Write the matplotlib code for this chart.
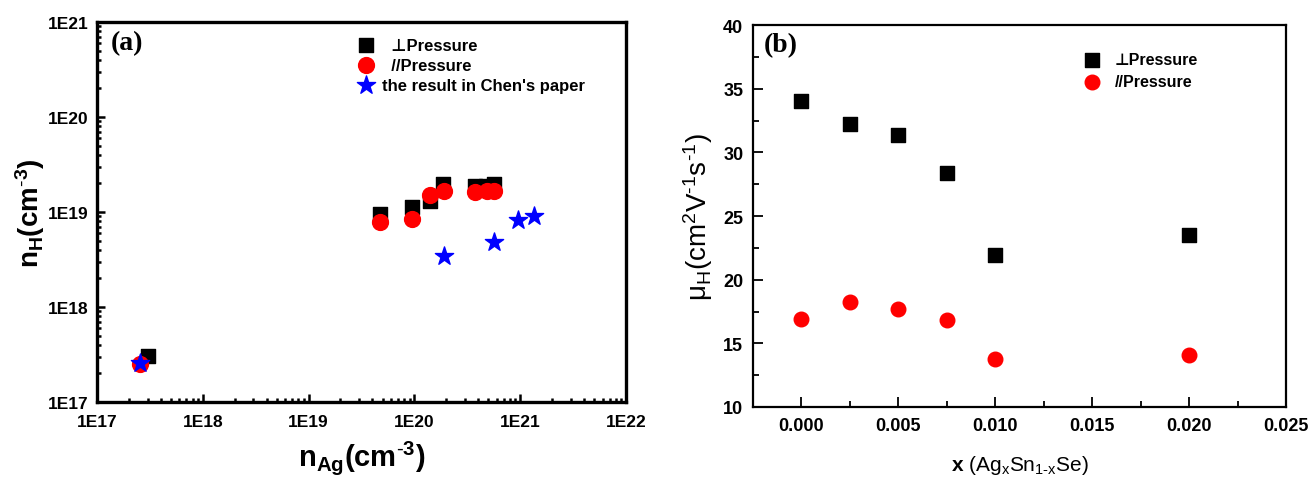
import numpy as np
import matplotlib
matplotlib.use("Agg")
import matplotlib.pyplot as plt
from matplotlib.ticker import LogLocator, FuncFormatter, MultipleLocator, NullFormatter

plt.rcParams['font.family'] = ['Liberation Sans', 'DejaVu Sans']
plt.rcParams['mathtext.fontset'] = 'custom'
plt.rcParams['mathtext.rm'] = 'Liberation Sans'
plt.rcParams['mathtext.bf'] = 'Liberation Sans:bold'

# (a) carrier concentration vs Ag concentration
nag_perp = [3.05e17, 4.7e19, 9.5e19, 1.4e20, 1.86e20, 3.7e20, 4.7e20, 5.7e20]
nh_perp = [3.05e17, 9.5e18, 1.12e19, 1.29e19, 1.98e19, 1.9e19, 1.9e19, 1.95e19]
nag_par = [2.54e17, 4.75e19, 9.5e19, 1.41e20, 1.9e20, 3.7e20, 4.8e20, 5.6e20]
nh_par = [2.49e17, 7.9e18, 8.4e18, 1.51e19, 1.66e19, 1.62e19, 1.65e19, 1.66e19]
nag_chen = [2.54e17, 1.9e20, 5.6e20, 9.5e20, 1.34e21]
nh_chen = [2.55e17, 3.4e18, 4.85e18, 8.3e18, 9.0e18]

# (b) Hall mobility vs x
x_vals = [0.0, 0.0025, 0.005, 0.0075, 0.010, 0.020]
mu_perp = [34.06, 32.25, 31.38, 28.4, 21.93, 23.5]
mu_par = [16.9, 18.25, 17.73, 16.83, 13.73, 14.07]

fig = plt.figure(figsize=(13.13, 4.81), dpi=100)
ax1 = fig.add_axes([0.0739, 0.1622, 0.4029, 0.79])
ax2 = fig.add_axes([0.5735, 0.1518, 0.406, 0.794])

# ---- panel (a)
ax1.scatter(nag_perp, nh_perp, marker='s', s=110, color='black', label='  \u22a5Pressure', zorder=3)
ax1.scatter(nag_par, nh_par, marker='o', s=130, color='red', label='  //Pressure', zorder=4)
ax1.scatter(nag_chen, nh_chen, marker='*', s=190, color='blue', label="the result in Chen's paper", zorder=5)
ax1.set_xscale('log')
ax1.set_yscale('log')
ax1.set_xlim(1e17, 1e22)
ax1.set_ylim(1e17, 1e21)
fmt = FuncFormatter(lambda v, p: '1E%d' % round(np.log10(v)))
for axis in (ax1.xaxis, ax1.yaxis):
    axis.set_major_locator(LogLocator(base=10, numticks=10))
    axis.set_minor_locator(LogLocator(base=10, subs=np.arange(2, 10), numticks=100))
    axis.set_major_formatter(fmt)
    axis.set_minor_formatter(NullFormatter())
ax1.tick_params(which='both', direction='in', top=False, right=False, width=1.8)
ax1.tick_params(which='major', length=6, labelsize=12.5, pad=6)
ax1.tick_params(axis='x', which='major', pad=9)
ax1.tick_params(which='minor', length=3)
for lab in ax1.get_xticklabels() + ax1.get_yticklabels():
    lab.set_fontweight('bold')
for sp in ax1.spines.values():
    sp.set_linewidth(2.4)
ax1.set_xlabel(r'$\mathbf{n_{Ag}(cm^{\text{-}3})}$', fontsize=21, labelpad=6)
ax1.set_ylabel(r'$\mathbf{n_{H}(cm^{\text{-}3})}$', fontsize=20, labelpad=1)
ax1.text(0.026, 0.947, '(a)', transform=ax1.transAxes, fontsize=20, fontweight='bold',
         family='Liberation Serif', va='center', ha='left')
ax1.legend(loc='upper left', bbox_to_anchor=(0.47, 0.985), frameon=False,
           prop={'weight': 'bold', 'size': 12}, handletextpad=0.4,
           labelspacing=0.3, borderaxespad=0.2, handlelength=1.2)

# ---- panel (b)
ax2.scatter(x_vals, mu_perp, marker='s', s=100, color='black', label='\u22a5Pressure', zorder=3)
ax2.scatter(x_vals, mu_par, marker='o', s=110, color='red', label='//Pressure', zorder=3)
ax2.set_xlim(-0.0025, 0.025)
ax2.set_ylim(10, 40)
ax2.xaxis.set_major_locator(MultipleLocator(0.005))
ax2.xaxis.set_minor_locator(MultipleLocator(0.0025))
ax2.yaxis.set_major_locator(MultipleLocator(5))
ax2.yaxis.set_minor_locator(MultipleLocator(2.5))
ax2.xaxis.set_major_formatter(FuncFormatter(lambda v, p: '%.3f' % v))
ax2.tick_params(which='both', direction='in', top=False, right=False, width=1.3)
ax2.tick_params(which='major', length=7, labelsize=13, pad=7)
ax2.tick_params(which='minor', length=4)
for lab in ax2.get_xticklabels() + ax2.get_yticklabels():
    lab.set_fontweight('bold')
for sp in ax2.spines.values():
    sp.set_linewidth(1.6)
ax2.set_xlabel(r'$\mathbf{x}$ (Ag$_\mathrm{x}$Sn$_\mathrm{1\text{-}x}$Se)', fontsize=15, labelpad=14)
ax2.set_ylabel(r'$\mathrm{\mu_H(cm^2V^{\text{-}1}s^{\text{-}1})}$', fontsize=20, labelpad=6)
ax2.text(0.02, 0.948, '(b)', transform=ax2.transAxes, fontsize=20, fontweight='bold',
         family='Liberation Serif', va='center', ha='left')
ax2.legend(loc='upper left', bbox_to_anchor=(0.6, 0.955), frameon=False,
           prop={'weight': 'bold', 'size': 11.5}, handletextpad=0.8,
           labelspacing=0.45, borderaxespad=0.2, handlelength=1.2)

fig.savefig('out.png', dpi=100)
